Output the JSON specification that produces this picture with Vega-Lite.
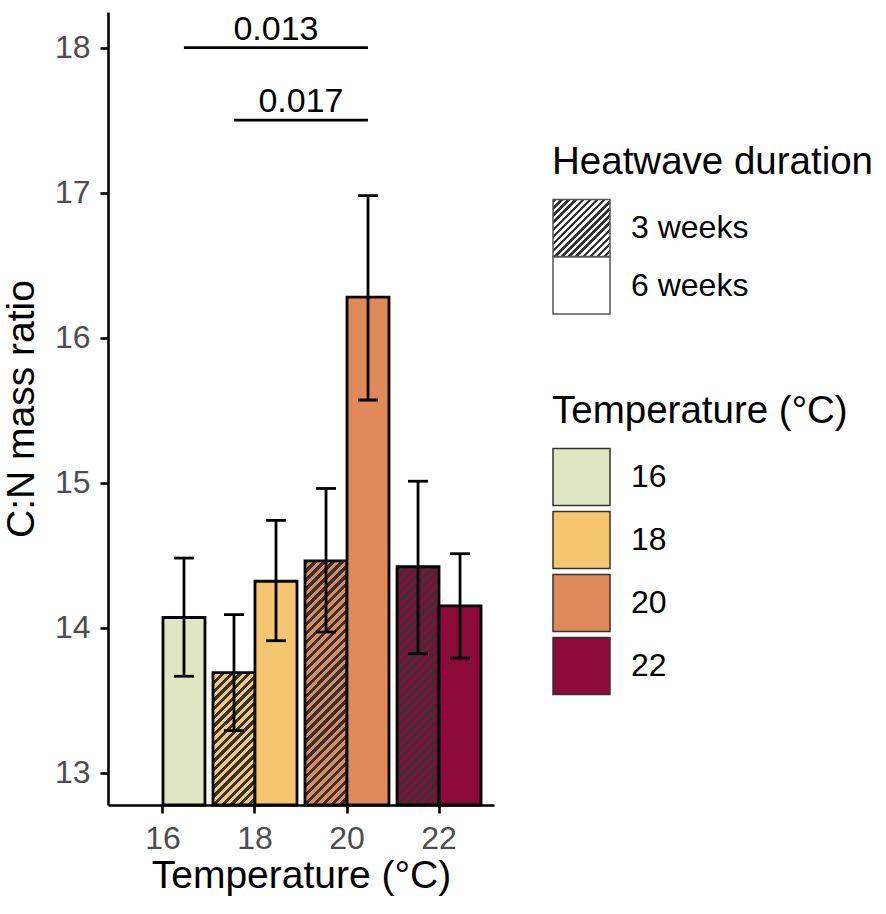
{
  "$schema": "https://vega.github.io/schema/vega-lite/v6.json",
  "autosize": "none",
  "padding": {"left": 108, "top": 12, "right": 392, "bottom": 109},
  "width": 386,
  "height": 793,
  "datasets": {
    "cn": [
      {"Temperature": "16", "Duration": "6 weeks", "CN": 14.07, "lo": 13.665, "hi": 14.48},
      {"Temperature": "18", "Duration": "3 weeks", "CN": 13.69, "lo": 13.29, "hi": 14.09},
      {"Temperature": "18", "Duration": "6 weeks", "CN": 14.32, "lo": 13.91, "hi": 14.74},
      {"Temperature": "20", "Duration": "3 weeks", "CN": 14.46, "lo": 13.97, "hi": 14.96},
      {"Temperature": "20", "Duration": "6 weeks", "CN": 16.28, "lo": 15.57, "hi": 16.98},
      {"Temperature": "22", "Duration": "3 weeks", "CN": 14.42, "lo": 13.82, "hi": 15.01},
      {"Temperature": "22", "Duration": "6 weeks", "CN": 14.15, "lo": 13.79, "hi": 14.51}
    ],
    "sig": [
      {"p": "0.013", "start": 0.228, "end": 2.228, "mid": 1.228, "y": 18.0},
      {"p": "0.017", "start": 0.772, "end": 2.228, "mid": 1.5, "y": 17.5}
    ]
  },
  "layer": [
    {
      "data": {"name": "cn"},
      "encoding": {
        "x": {
          "field": "Temperature", "type": "nominal",
          "scale": {"domain": ["16", "18", "20", "22"], "paddingInner": 0.087, "paddingOuter": 0.141},
          "axis": {"title": "Temperature (°C)", "labelAngle": 0, "titlePadding": 2}
        },
        "xOffset": {
          "field": "Duration", "type": "nominal",
          "scale": {"domain": ["3 weeks", "6 weeks"], "paddingInner": 0, "paddingOuter": 0}
        }
      },
      "layer": [
        {
          "transform": [{"filter": "datum.Temperature === '18' && datum.Duration === '3 weeks'"}],
          "mark": {
            "type": "bar", "stroke": "black", "strokeWidth": 2.8,
            "fill": {"gradient": "linear", "x1": 0, "y1": 0, "x2": 0.3796, "y2": 1.1968, "stops": [
              {"offset":0,"color":"#333"},{"offset":0.025,"color":"#333"},{"offset":0.025,"color":"#F7C671"},{"offset":0.05,"color":"#F7C671"},
              {"offset":0.05,"color":"#333"},{"offset":0.075,"color":"#333"},{"offset":0.075,"color":"#F7C671"},{"offset":0.1,"color":"#F7C671"},
              {"offset":0.1,"color":"#333"},{"offset":0.125,"color":"#333"},{"offset":0.125,"color":"#F7C671"},{"offset":0.15,"color":"#F7C671"},
              {"offset":0.15,"color":"#333"},{"offset":0.175,"color":"#333"},{"offset":0.175,"color":"#F7C671"},{"offset":0.2,"color":"#F7C671"},
              {"offset":0.2,"color":"#333"},{"offset":0.225,"color":"#333"},{"offset":0.225,"color":"#F7C671"},{"offset":0.25,"color":"#F7C671"},
              {"offset":0.25,"color":"#333"},{"offset":0.275,"color":"#333"},{"offset":0.275,"color":"#F7C671"},{"offset":0.3,"color":"#F7C671"},
              {"offset":0.3,"color":"#333"},{"offset":0.325,"color":"#333"},{"offset":0.325,"color":"#F7C671"},{"offset":0.35,"color":"#F7C671"},
              {"offset":0.35,"color":"#333"},{"offset":0.375,"color":"#333"},{"offset":0.375,"color":"#F7C671"},{"offset":0.4,"color":"#F7C671"},
              {"offset":0.4,"color":"#333"},{"offset":0.425,"color":"#333"},{"offset":0.425,"color":"#F7C671"},{"offset":0.45,"color":"#F7C671"},
              {"offset":0.45,"color":"#333"},{"offset":0.475,"color":"#333"},{"offset":0.475,"color":"#F7C671"},{"offset":0.5,"color":"#F7C671"},
              {"offset":0.5,"color":"#333"},{"offset":0.525,"color":"#333"},{"offset":0.525,"color":"#F7C671"},{"offset":0.55,"color":"#F7C671"},
              {"offset":0.55,"color":"#333"},{"offset":0.575,"color":"#333"},{"offset":0.575,"color":"#F7C671"},{"offset":0.6,"color":"#F7C671"},
              {"offset":0.6,"color":"#333"},{"offset":0.625,"color":"#333"},{"offset":0.625,"color":"#F7C671"},{"offset":0.65,"color":"#F7C671"},
              {"offset":0.65,"color":"#333"},{"offset":0.675,"color":"#333"},{"offset":0.675,"color":"#F7C671"},{"offset":0.7,"color":"#F7C671"},
              {"offset":0.7,"color":"#333"},{"offset":0.725,"color":"#333"},{"offset":0.725,"color":"#F7C671"},{"offset":0.75,"color":"#F7C671"},
              {"offset":0.75,"color":"#333"},{"offset":0.775,"color":"#333"},{"offset":0.775,"color":"#F7C671"},{"offset":0.8,"color":"#F7C671"},
              {"offset":0.8,"color":"#333"},{"offset":0.825,"color":"#333"},{"offset":0.825,"color":"#F7C671"},{"offset":0.85,"color":"#F7C671"},
              {"offset":0.85,"color":"#333"},{"offset":0.875,"color":"#333"},{"offset":0.875,"color":"#F7C671"},{"offset":0.9,"color":"#F7C671"},
              {"offset":0.9,"color":"#333"},{"offset":0.925,"color":"#333"},{"offset":0.925,"color":"#F7C671"},{"offset":0.95,"color":"#F7C671"},
              {"offset":0.95,"color":"#333"},{"offset":0.975,"color":"#333"},{"offset":0.975,"color":"#F7C671"},{"offset":1,"color":"#F7C671"}
            ]}
          },
          "encoding": {
            "y": {
              "field": "CN", "type": "quantitative",
              "scale": {"domain": [12.777, 18.246], "nice": false, "zero": false},
              "axis": {"title": "C:N mass ratio", "values": [13, 14, 15, 16, 17, 18], "format": "d", "titlePadding": 13}
            },
            "y2": {"datum": 12.777}
          }
        },
        {
          "transform": [{"filter": "datum.Temperature === '20' && datum.Duration === '3 weeks'"}],
          "mark": {
            "type": "bar", "stroke": "black", "strokeWidth": 2.8,
            "fill": {"gradient": "linear", "x1": 0, "y1": 0, "x2": 0.196, "y2": 1.138, "stops": [
              {"offset":0,"color":"#333"},{"offset":0.015625,"color":"#333"},{"offset":0.015625,"color":"#E08A5A"},{"offset":0.03125,"color":"#E08A5A"},
              {"offset":0.03125,"color":"#333"},{"offset":0.046875,"color":"#333"},{"offset":0.046875,"color":"#E08A5A"},{"offset":0.0625,"color":"#E08A5A"},
              {"offset":0.0625,"color":"#333"},{"offset":0.078125,"color":"#333"},{"offset":0.078125,"color":"#E08A5A"},{"offset":0.09375,"color":"#E08A5A"},
              {"offset":0.09375,"color":"#333"},{"offset":0.109375,"color":"#333"},{"offset":0.109375,"color":"#E08A5A"},{"offset":0.125,"color":"#E08A5A"},
              {"offset":0.125,"color":"#333"},{"offset":0.140625,"color":"#333"},{"offset":0.140625,"color":"#E08A5A"},{"offset":0.15625,"color":"#E08A5A"},
              {"offset":0.15625,"color":"#333"},{"offset":0.171875,"color":"#333"},{"offset":0.171875,"color":"#E08A5A"},{"offset":0.1875,"color":"#E08A5A"},
              {"offset":0.1875,"color":"#333"},{"offset":0.203125,"color":"#333"},{"offset":0.203125,"color":"#E08A5A"},{"offset":0.21875,"color":"#E08A5A"},
              {"offset":0.21875,"color":"#333"},{"offset":0.234375,"color":"#333"},{"offset":0.234375,"color":"#E08A5A"},{"offset":0.25,"color":"#E08A5A"},
              {"offset":0.25,"color":"#333"},{"offset":0.265625,"color":"#333"},{"offset":0.265625,"color":"#E08A5A"},{"offset":0.28125,"color":"#E08A5A"},
              {"offset":0.28125,"color":"#333"},{"offset":0.296875,"color":"#333"},{"offset":0.296875,"color":"#E08A5A"},{"offset":0.3125,"color":"#E08A5A"},
              {"offset":0.3125,"color":"#333"},{"offset":0.328125,"color":"#333"},{"offset":0.328125,"color":"#E08A5A"},{"offset":0.34375,"color":"#E08A5A"},
              {"offset":0.34375,"color":"#333"},{"offset":0.359375,"color":"#333"},{"offset":0.359375,"color":"#E08A5A"},{"offset":0.375,"color":"#E08A5A"},
              {"offset":0.375,"color":"#333"},{"offset":0.390625,"color":"#333"},{"offset":0.390625,"color":"#E08A5A"},{"offset":0.40625,"color":"#E08A5A"},
              {"offset":0.40625,"color":"#333"},{"offset":0.421875,"color":"#333"},{"offset":0.421875,"color":"#E08A5A"},{"offset":0.4375,"color":"#E08A5A"},
              {"offset":0.4375,"color":"#333"},{"offset":0.453125,"color":"#333"},{"offset":0.453125,"color":"#E08A5A"},{"offset":0.46875,"color":"#E08A5A"},
              {"offset":0.46875,"color":"#333"},{"offset":0.484375,"color":"#333"},{"offset":0.484375,"color":"#E08A5A"},{"offset":0.5,"color":"#E08A5A"},
              {"offset":0.5,"color":"#333"},{"offset":0.515625,"color":"#333"},{"offset":0.515625,"color":"#E08A5A"},{"offset":0.53125,"color":"#E08A5A"},
              {"offset":0.53125,"color":"#333"},{"offset":0.546875,"color":"#333"},{"offset":0.546875,"color":"#E08A5A"},{"offset":0.5625,"color":"#E08A5A"},
              {"offset":0.5625,"color":"#333"},{"offset":0.578125,"color":"#333"},{"offset":0.578125,"color":"#E08A5A"},{"offset":0.59375,"color":"#E08A5A"},
              {"offset":0.59375,"color":"#333"},{"offset":0.609375,"color":"#333"},{"offset":0.609375,"color":"#E08A5A"},{"offset":0.625,"color":"#E08A5A"},
              {"offset":0.625,"color":"#333"},{"offset":0.640625,"color":"#333"},{"offset":0.640625,"color":"#E08A5A"},{"offset":0.65625,"color":"#E08A5A"},
              {"offset":0.65625,"color":"#333"},{"offset":0.671875,"color":"#333"},{"offset":0.671875,"color":"#E08A5A"},{"offset":0.6875,"color":"#E08A5A"},
              {"offset":0.6875,"color":"#333"},{"offset":0.703125,"color":"#333"},{"offset":0.703125,"color":"#E08A5A"},{"offset":0.71875,"color":"#E08A5A"},
              {"offset":0.71875,"color":"#333"},{"offset":0.734375,"color":"#333"},{"offset":0.734375,"color":"#E08A5A"},{"offset":0.75,"color":"#E08A5A"},
              {"offset":0.75,"color":"#333"},{"offset":0.765625,"color":"#333"},{"offset":0.765625,"color":"#E08A5A"},{"offset":0.78125,"color":"#E08A5A"},
              {"offset":0.78125,"color":"#333"},{"offset":0.796875,"color":"#333"},{"offset":0.796875,"color":"#E08A5A"},{"offset":0.8125,"color":"#E08A5A"},
              {"offset":0.8125,"color":"#333"},{"offset":0.828125,"color":"#333"},{"offset":0.828125,"color":"#E08A5A"},{"offset":0.84375,"color":"#E08A5A"},
              {"offset":0.84375,"color":"#333"},{"offset":0.859375,"color":"#333"},{"offset":0.859375,"color":"#E08A5A"},{"offset":0.875,"color":"#E08A5A"},
              {"offset":0.875,"color":"#333"},{"offset":0.890625,"color":"#333"},{"offset":0.890625,"color":"#E08A5A"},{"offset":0.90625,"color":"#E08A5A"},
              {"offset":0.90625,"color":"#333"},{"offset":0.921875,"color":"#333"},{"offset":0.921875,"color":"#E08A5A"},{"offset":0.9375,"color":"#E08A5A"},
              {"offset":0.9375,"color":"#333"},{"offset":0.953125,"color":"#333"},{"offset":0.953125,"color":"#E08A5A"},{"offset":0.96875,"color":"#E08A5A"},
              {"offset":0.96875,"color":"#333"},{"offset":0.984375,"color":"#333"},{"offset":0.984375,"color":"#E08A5A"},{"offset":1,"color":"#E08A5A"}
            ]}
          },
          "encoding": {
            "y": {"field": "CN", "type": "quantitative"},
            "y2": {"datum": 12.777}
          }
        },
        {
          "transform": [{"filter": "datum.Temperature === '22' && datum.Duration === '3 weeks'"}],
          "mark": {
            "type": "bar", "stroke": "black", "strokeWidth": 2.8,
            "fill": {"gradient": "linear", "x1": 0, "y1": 0, "x2": 0.2012, "y2": 1.1408, "stops": [
              {"offset":0,"color":"#333"},{"offset":0.015625,"color":"#333"},{"offset":0.015625,"color":"#8B0A3A"},{"offset":0.03125,"color":"#8B0A3A"},
              {"offset":0.03125,"color":"#333"},{"offset":0.046875,"color":"#333"},{"offset":0.046875,"color":"#8B0A3A"},{"offset":0.0625,"color":"#8B0A3A"},
              {"offset":0.0625,"color":"#333"},{"offset":0.078125,"color":"#333"},{"offset":0.078125,"color":"#8B0A3A"},{"offset":0.09375,"color":"#8B0A3A"},
              {"offset":0.09375,"color":"#333"},{"offset":0.109375,"color":"#333"},{"offset":0.109375,"color":"#8B0A3A"},{"offset":0.125,"color":"#8B0A3A"},
              {"offset":0.125,"color":"#333"},{"offset":0.140625,"color":"#333"},{"offset":0.140625,"color":"#8B0A3A"},{"offset":0.15625,"color":"#8B0A3A"},
              {"offset":0.15625,"color":"#333"},{"offset":0.171875,"color":"#333"},{"offset":0.171875,"color":"#8B0A3A"},{"offset":0.1875,"color":"#8B0A3A"},
              {"offset":0.1875,"color":"#333"},{"offset":0.203125,"color":"#333"},{"offset":0.203125,"color":"#8B0A3A"},{"offset":0.21875,"color":"#8B0A3A"},
              {"offset":0.21875,"color":"#333"},{"offset":0.234375,"color":"#333"},{"offset":0.234375,"color":"#8B0A3A"},{"offset":0.25,"color":"#8B0A3A"},
              {"offset":0.25,"color":"#333"},{"offset":0.265625,"color":"#333"},{"offset":0.265625,"color":"#8B0A3A"},{"offset":0.28125,"color":"#8B0A3A"},
              {"offset":0.28125,"color":"#333"},{"offset":0.296875,"color":"#333"},{"offset":0.296875,"color":"#8B0A3A"},{"offset":0.3125,"color":"#8B0A3A"},
              {"offset":0.3125,"color":"#333"},{"offset":0.328125,"color":"#333"},{"offset":0.328125,"color":"#8B0A3A"},{"offset":0.34375,"color":"#8B0A3A"},
              {"offset":0.34375,"color":"#333"},{"offset":0.359375,"color":"#333"},{"offset":0.359375,"color":"#8B0A3A"},{"offset":0.375,"color":"#8B0A3A"},
              {"offset":0.375,"color":"#333"},{"offset":0.390625,"color":"#333"},{"offset":0.390625,"color":"#8B0A3A"},{"offset":0.40625,"color":"#8B0A3A"},
              {"offset":0.40625,"color":"#333"},{"offset":0.421875,"color":"#333"},{"offset":0.421875,"color":"#8B0A3A"},{"offset":0.4375,"color":"#8B0A3A"},
              {"offset":0.4375,"color":"#333"},{"offset":0.453125,"color":"#333"},{"offset":0.453125,"color":"#8B0A3A"},{"offset":0.46875,"color":"#8B0A3A"},
              {"offset":0.46875,"color":"#333"},{"offset":0.484375,"color":"#333"},{"offset":0.484375,"color":"#8B0A3A"},{"offset":0.5,"color":"#8B0A3A"},
              {"offset":0.5,"color":"#333"},{"offset":0.515625,"color":"#333"},{"offset":0.515625,"color":"#8B0A3A"},{"offset":0.53125,"color":"#8B0A3A"},
              {"offset":0.53125,"color":"#333"},{"offset":0.546875,"color":"#333"},{"offset":0.546875,"color":"#8B0A3A"},{"offset":0.5625,"color":"#8B0A3A"},
              {"offset":0.5625,"color":"#333"},{"offset":0.578125,"color":"#333"},{"offset":0.578125,"color":"#8B0A3A"},{"offset":0.59375,"color":"#8B0A3A"},
              {"offset":0.59375,"color":"#333"},{"offset":0.609375,"color":"#333"},{"offset":0.609375,"color":"#8B0A3A"},{"offset":0.625,"color":"#8B0A3A"},
              {"offset":0.625,"color":"#333"},{"offset":0.640625,"color":"#333"},{"offset":0.640625,"color":"#8B0A3A"},{"offset":0.65625,"color":"#8B0A3A"},
              {"offset":0.65625,"color":"#333"},{"offset":0.671875,"color":"#333"},{"offset":0.671875,"color":"#8B0A3A"},{"offset":0.6875,"color":"#8B0A3A"},
              {"offset":0.6875,"color":"#333"},{"offset":0.703125,"color":"#333"},{"offset":0.703125,"color":"#8B0A3A"},{"offset":0.71875,"color":"#8B0A3A"},
              {"offset":0.71875,"color":"#333"},{"offset":0.734375,"color":"#333"},{"offset":0.734375,"color":"#8B0A3A"},{"offset":0.75,"color":"#8B0A3A"},
              {"offset":0.75,"color":"#333"},{"offset":0.765625,"color":"#333"},{"offset":0.765625,"color":"#8B0A3A"},{"offset":0.78125,"color":"#8B0A3A"},
              {"offset":0.78125,"color":"#333"},{"offset":0.796875,"color":"#333"},{"offset":0.796875,"color":"#8B0A3A"},{"offset":0.8125,"color":"#8B0A3A"},
              {"offset":0.8125,"color":"#333"},{"offset":0.828125,"color":"#333"},{"offset":0.828125,"color":"#8B0A3A"},{"offset":0.84375,"color":"#8B0A3A"},
              {"offset":0.84375,"color":"#333"},{"offset":0.859375,"color":"#333"},{"offset":0.859375,"color":"#8B0A3A"},{"offset":0.875,"color":"#8B0A3A"},
              {"offset":0.875,"color":"#333"},{"offset":0.890625,"color":"#333"},{"offset":0.890625,"color":"#8B0A3A"},{"offset":0.90625,"color":"#8B0A3A"},
              {"offset":0.90625,"color":"#333"},{"offset":0.921875,"color":"#333"},{"offset":0.921875,"color":"#8B0A3A"},{"offset":0.9375,"color":"#8B0A3A"},
              {"offset":0.9375,"color":"#333"},{"offset":0.953125,"color":"#333"},{"offset":0.953125,"color":"#8B0A3A"},{"offset":0.96875,"color":"#8B0A3A"},
              {"offset":0.96875,"color":"#333"},{"offset":0.984375,"color":"#333"},{"offset":0.984375,"color":"#8B0A3A"},{"offset":1,"color":"#8B0A3A"}
            ]}
          },
          "encoding": {
            "y": {"field": "CN", "type": "quantitative"},
            "y2": {"datum": 12.777}
          }
        },
        {
          "mark": {"type": "bar", "stroke": "black", "strokeWidth": 2.8, "opacity": 1},
          "transform": [{"filter": "datum.Duration === '6 weeks'"}],
          "encoding": {
            "y": {"field": "CN", "type": "quantitative"},
            "y2": {"datum": 12.777},
            "color": {
              "field": "Temperature", "type": "nominal",
              "scale": {"domain": ["16", "18", "20", "22"], "range": ["#DFE6C2", "#F7C671", "#E08A5A", "#8B0A3A"]},
              "legend": {
                "title": "Temperature (°C)", "orient": "none", "legendX": 444, "legendY": 381,
                "symbolStrokeColor": "#333", "symbolStrokeWidth": 1.5
              }
            }
          }
        },
        {
          "mark": {"type": "rule", "color": "black", "strokeWidth": 2.8},
          "encoding": {
            "y": {"field": "lo", "type": "quantitative"},
            "y2": {"field": "hi"}
          }
        },
        {
          "mark": {"type": "tick", "color": "black", "thickness": 2.8, "size": 20, "opacity": 1},
          "encoding": {"y": {"field": "lo", "type": "quantitative"}}
        },
        {
          "mark": {"type": "tick", "color": "black", "thickness": 2.8, "size": 20, "opacity": 1},
          "encoding": {"y": {"field": "hi", "type": "quantitative"}}
        },
        {
          "transform": [{"filter": "false"}],
          "mark": {
            "type": "point", "shape": "square", "filled": true, "opacity": 1, "stroke": "#555", "strokeWidth": 1.5,
            "fill": {"gradient": "linear", "x1": 0, "y1": 0, "x2": 1, "y2": 1, "stops": [
              {"offset":0,"color":"#333"},{"offset":0.03125,"color":"#333"},{"offset":0.03125,"color":"#fff"},{"offset":0.0625,"color":"#fff"},
              {"offset":0.0625,"color":"#333"},{"offset":0.09375,"color":"#333"},{"offset":0.09375,"color":"#fff"},{"offset":0.125,"color":"#fff"},
              {"offset":0.125,"color":"#333"},{"offset":0.15625,"color":"#333"},{"offset":0.15625,"color":"#fff"},{"offset":0.1875,"color":"#fff"},
              {"offset":0.1875,"color":"#333"},{"offset":0.21875,"color":"#333"},{"offset":0.21875,"color":"#fff"},{"offset":0.25,"color":"#fff"},
              {"offset":0.25,"color":"#333"},{"offset":0.28125,"color":"#333"},{"offset":0.28125,"color":"#fff"},{"offset":0.3125,"color":"#fff"},
              {"offset":0.3125,"color":"#333"},{"offset":0.34375,"color":"#333"},{"offset":0.34375,"color":"#fff"},{"offset":0.375,"color":"#fff"},
              {"offset":0.375,"color":"#333"},{"offset":0.40625,"color":"#333"},{"offset":0.40625,"color":"#fff"},{"offset":0.4375,"color":"#fff"},
              {"offset":0.4375,"color":"#333"},{"offset":0.46875,"color":"#333"},{"offset":0.46875,"color":"#fff"},{"offset":0.5,"color":"#fff"},
              {"offset":0.5,"color":"#333"},{"offset":0.53125,"color":"#333"},{"offset":0.53125,"color":"#fff"},{"offset":0.5625,"color":"#fff"},
              {"offset":0.5625,"color":"#333"},{"offset":0.59375,"color":"#333"},{"offset":0.59375,"color":"#fff"},{"offset":0.625,"color":"#fff"},
              {"offset":0.625,"color":"#333"},{"offset":0.65625,"color":"#333"},{"offset":0.65625,"color":"#fff"},{"offset":0.6875,"color":"#fff"},
              {"offset":0.6875,"color":"#333"},{"offset":0.71875,"color":"#333"},{"offset":0.71875,"color":"#fff"},{"offset":0.75,"color":"#fff"},
              {"offset":0.75,"color":"#333"},{"offset":0.78125,"color":"#333"},{"offset":0.78125,"color":"#fff"},{"offset":0.8125,"color":"#fff"},
              {"offset":0.8125,"color":"#333"},{"offset":0.84375,"color":"#333"},{"offset":0.84375,"color":"#fff"},{"offset":0.875,"color":"#fff"},
              {"offset":0.875,"color":"#333"},{"offset":0.90625,"color":"#333"},{"offset":0.90625,"color":"#fff"},{"offset":0.9375,"color":"#fff"},
              {"offset":0.9375,"color":"#333"},{"offset":0.96875,"color":"#333"},{"offset":0.96875,"color":"#fff"},{"offset":1,"color":"#fff"}
            ]}
          },
          "encoding": {
            "y": {"field": "CN", "type": "quantitative"},
            "shape": {
              "field": "Duration", "type": "nominal",
              "scale": {"domain": ["3 weeks"], "range": ["square"]},
              "legend": {"title": "Heatwave duration", "orient": "none", "legendX": 444, "legendY": 132, "symbolSize": 3249}
            }
          }
        },
        {
          "transform": [{"filter": "false"}],
          "mark": {"type": "point", "shape": "square", "filled": true, "opacity": 1, "fill": "#ffffff", "stroke": "#555", "strokeWidth": 1.5},
          "encoding": {
            "y": {"field": "CN", "type": "quantitative"},
            "opacity": {
              "field": "Duration", "type": "nominal",
              "scale": {"domain": ["6 weeks"], "range": [1]},
              "legend": {"title": null, "orient": "none", "legendX": 444, "legendY": 244, "symbolSize": 3249}
            }
          }
        }
      ]
    },
    {
      "data": {"name": "sig"},
      "encoding": {
        "y": {"field": "y", "type": "quantitative"}
      },
      "layer": [
        {
          "mark": {"type": "rule", "color": "black", "strokeWidth": 2.8},
          "encoding": {
            "x": {"field": "start", "type": "quantitative", "scale": {"domain": [-0.5974, 3.5978], "nice": false, "zero": false}, "axis": null},
            "x2": {"field": "end"}
          }
        },
        {
          "mark": {"type": "text", "color": "black", "fontSize": 34, "font": "Liberation Sans", "baseline": "alphabetic", "align": "center", "dy": -8},
          "encoding": {
            "x": {"field": "mid", "type": "quantitative"},
            "text": {"field": "p"}
          }
        }
      ]
    }
  ],
  "resolve": {"scale": {"x": "independent"}},
  "config": {
    "view": {"stroke": null},
    "font": "Liberation Sans",
    "axis": {
      "grid": false,
      "domainColor": "black", "domainWidth": 2.6,
      "tickColor": "black", "tickWidth": 2.6, "tickSize": 8,
      "labelFont": "Liberation Sans", "labelFontSize": 32, "labelColor": "#4D4D4D", "labelPadding": 10,
      "titleFont": "Liberation Sans", "titleFontSize": 39, "titleFontWeight": "normal", "titleColor": "black"
    },
    "legend": {
      "titleFont": "Liberation Sans", "titleFontSize": 38.5, "titleFontWeight": "normal", "titleColor": "black",
      "titlePadding": 16, "titleLimit": 1000,
      "labelFont": "Liberation Sans", "labelFontSize": 32, "labelColor": "black", "labelOffset": 20, "labelLimit": 1000,
      "symbolType": "square", "symbolSize": 3249, "rowPadding": 0, "padding": 0
    }
  }
}
